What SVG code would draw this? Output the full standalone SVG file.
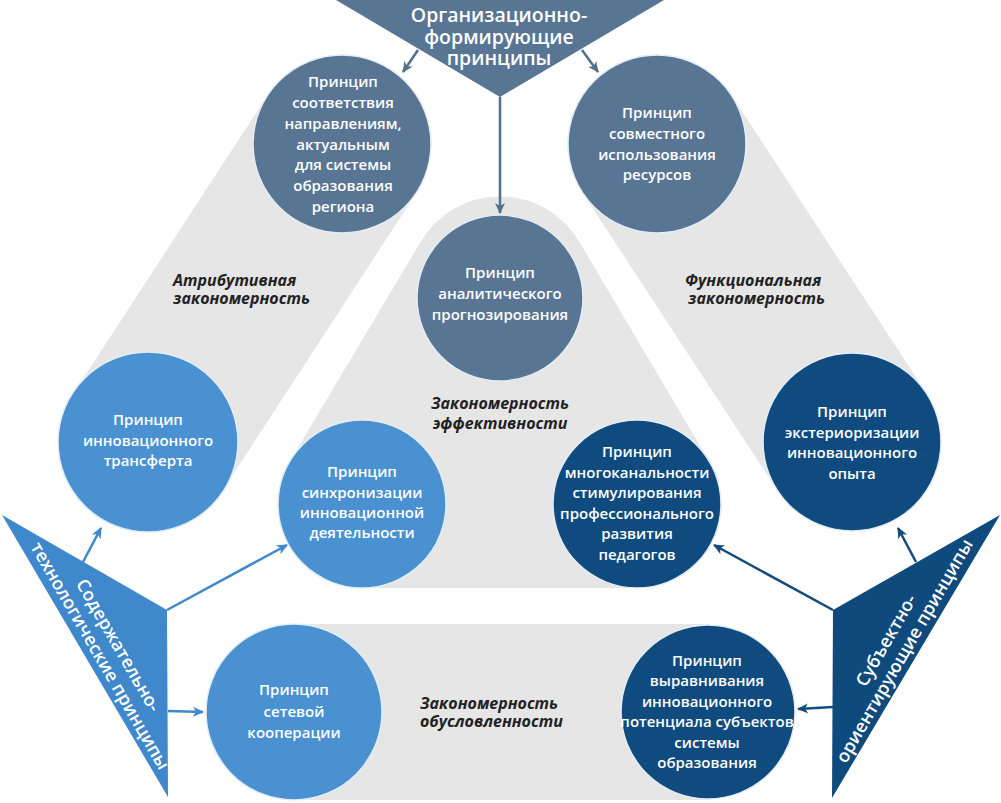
<svg xmlns="http://www.w3.org/2000/svg" width="1001" height="803" viewBox="0 0 1001 803">
<style>
.band{stroke:#e6e6e6;fill:none}
.slate{fill:#587593;stroke:#e4edf6;stroke-width:1.5}
.light{fill:#4a91d2;stroke:#e4edf6;stroke-width:1.5}
.navy{fill:#0f4b7e;stroke:#e4edf6;stroke-width:1.5}
.ct{font-family:"Open Sans","Noto Sans","DejaVu Sans",sans-serif;font-weight:600;font-size:15px;fill:#fff;text-anchor:middle}
.lbl{font-family:"Open Sans","Noto Sans","DejaVu Sans",sans-serif;font-weight:700;font-style:italic;font-size:16px;fill:#222}
.tt{font-family:"Open Sans","Noto Sans","DejaVu Sans",sans-serif;font-weight:600;fill:#fff;text-anchor:middle}
.a-s{stroke:#546f8a;stroke-width:2.5;fill:none}
.a-l{stroke:#3e88cb;stroke-width:2.5;fill:none}
.a-n{stroke:#134b7c;stroke-width:2.5;fill:none}
</style>
<defs>
<marker id="ms" markerWidth="12" markerHeight="12" refX="10" refY="6" orient="auto" markerUnits="userSpaceOnUse"><path d="M0,1 L11,6 L0,11 L3,6 Z" fill="#546f8a"/></marker>
<marker id="ml" markerWidth="12" markerHeight="12" refX="10" refY="6" orient="auto" markerUnits="userSpaceOnUse"><path d="M0,1 L11,6 L0,11 L3,6 Z" fill="#3e88cb"/></marker>
<marker id="mn" markerWidth="12" markerHeight="12" refX="10" refY="6" orient="auto" markerUnits="userSpaceOnUse"><path d="M0,1 L11,6 L0,11 L3,6 Z" fill="#134b7c"/></marker>
</defs>
<rect width="1001" height="803" fill="#fff"/>
<g id="bands">
<line class="band" x1="342" y1="144" x2="148" y2="442" stroke-width="178"/>
<line class="band" x1="657" y1="144" x2="852" y2="442" stroke-width="178"/>
<line class="band" x1="293" y1="712" x2="709" y2="712" stroke-width="176"/>
<path d="M420.3 242.5 L289.4 461.9 A84 84 0 0 0 362 588 L637 588 A84 84 0 0 0 709.6 461.9 L579.7 242.5 A92 92 0 0 0 420.3 242.5 Z" fill="#e6e6e6"/>
<text class="lbl" x="173" y="286">Атрибутивная</text>
<text class="lbl" x="173" y="304">закономерность</text>
<text class="lbl" x="685" y="286">Функциональная</text>
<text class="lbl" x="688" y="304">закономерность</text>
<text class="lbl" x="500" y="409" text-anchor="middle" font-size="18">Закономерность</text>
<text class="lbl" x="500" y="429" text-anchor="middle" font-size="18">эффективности</text>
<text class="lbl" x="420" y="709">Закономерность</text>
<text class="lbl" x="420" y="727">обусловленности</text>
</g>
<g id="connectors">
<line class="a-s" x1="418" y1="50" x2="403" y2="72" marker-end="url(#ms)"/>
<line class="a-s" x1="582" y1="50" x2="598" y2="72" marker-end="url(#ms)"/>
<line class="a-s" x1="500" y1="97" x2="500" y2="213" marker-end="url(#ms)"/>
<line class="a-l" x1="83" y1="562" x2="101" y2="528" marker-end="url(#ml)"/>
<line class="a-l" x1="167" y1="610" x2="287" y2="545" marker-end="url(#ml)"/>
<line class="a-l" x1="168" y1="711" x2="203" y2="712" marker-end="url(#ml)"/>
<line class="a-n" x1="916" y1="562" x2="898" y2="528" marker-end="url(#mn)"/>
<line class="a-n" x1="833" y1="610" x2="714" y2="545" marker-end="url(#mn)"/>
<line class="a-n" x1="833" y1="707" x2="798" y2="709" marker-end="url(#mn)"/>
</g>
<g id="org">
<polygon points="336,0 664,0 500,97" fill="#587593"/>
<text class="tt" font-size="19.5" x="499" y="22">Организационно-</text>
<text class="tt" font-size="19.5" x="499" y="44">формирующие</text>
<text class="tt" font-size="19.5" x="499" y="65">принципы</text>
</g>
<g id="content">
<polygon points="2,515 167,610 168,797" fill="#3e88cb"/>
<g transform="translate(109.5,650.5) rotate(60)">
<text class="tt" font-size="18" x="0" y="-4">Содержательно-</text>
<text class="tt" font-size="18" x="0" y="17">технологические принципы</text>
</g>
</g>
<g id="subject">
<polygon points="1000,515 833,610 832,798" fill="#0f4a7c"/>
<g transform="translate(895,645.5) rotate(-60)">
<text class="tt" font-size="18" x="0" y="-4">Субъектно-</text>
<text class="tt" font-size="18" x="0" y="17">ориентирующие принципы</text>
</g>
</g>
<g id="n-sootv">
<circle class="slate" cx="342" cy="144" r="89"/>
<text class="ct" x="343" y="87">Принцип</text>
<text class="ct" x="343" y="108">соответствия</text>
<text class="ct" x="343" y="128.5">направлениям,</text>
<text class="ct" x="343" y="149.5">актуальным</text>
<text class="ct" x="343" y="170">для системы</text>
<text class="ct" x="343" y="191">образования</text>
<text class="ct" x="343" y="211.5">региона</text>
</g>
<g id="n-sovm">
<circle class="slate" cx="657" cy="144" r="89"/>
<text class="ct" x="657" y="118">Принцип</text>
<text class="ct" x="657" y="139">совместного</text>
<text class="ct" x="657" y="160">использования</text>
<text class="ct" x="657" y="180">ресурсов</text>
</g>
<g id="n-analit">
<circle class="slate" cx="500" cy="298" r="83"/>
<text class="ct" x="500" y="278">Принцип</text>
<text class="ct" x="500" y="299">аналитического</text>
<text class="ct" x="500" y="320">прогнозирования</text>
</g>
<g id="n-transfer">
<circle class="light" cx="148" cy="442" r="90"/>
<text class="ct" x="148" y="425">Принцип</text>
<text class="ct" x="148" y="445.5">инновационного</text>
<text class="ct" x="148" y="466">трансферта</text>
</g>
<g id="n-sinhr">
<circle class="light" cx="362" cy="504" r="84"/>
<text class="ct" x="362" y="477">Принцип</text>
<text class="ct" x="362" y="498">синхронизации</text>
<text class="ct" x="362" y="518">инновационной</text>
<text class="ct" x="362" y="538">деятельности</text>
</g>
<g id="n-mnogo">
<circle class="navy" cx="637" cy="504" r="84"/>
<text class="ct" x="637" y="457">Принцип</text>
<text class="ct" x="637" y="477.5">многоканальности</text>
<text class="ct" x="637" y="498">стимулирования</text>
<text class="ct" x="637" y="518.5">профессионального</text>
<text class="ct" x="637" y="539">развития</text>
<text class="ct" x="637" y="559.5">педагогов</text>
</g>
<g id="n-exter">
<circle class="navy" cx="852" cy="442" r="89"/>
<text class="ct" x="852" y="417">Принцип</text>
<text class="ct" x="852" y="437.5">экстериоризации</text>
<text class="ct" x="852" y="458">инновационного</text>
<text class="ct" x="852" y="478.5">опыта</text>
</g>
<g id="n-set">
<circle class="light" cx="294" cy="712" r="88"/>
<text class="ct" x="294" y="695">Принцип</text>
<text class="ct" x="294" y="716.5">сетевой</text>
<text class="ct" x="294" y="738">кооперации</text>
</g>
<g id="n-vyravn">
<circle class="navy" cx="708" cy="712" r="87"/>
<text class="ct" x="707" y="665.5">Принцип</text>
<text class="ct" x="707" y="686">выравнивания</text>
<text class="ct" x="707" y="706.5">инновационного</text>
<text class="ct" x="707" y="727">потенциала субъектов</text>
<text class="ct" x="707" y="747.5">системы</text>
<text class="ct" x="707" y="768">образования</text>
</g>
</svg>
